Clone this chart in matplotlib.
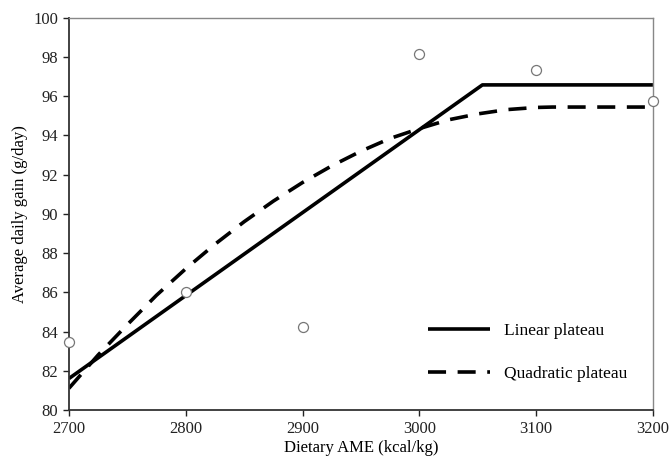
import matplotlib
matplotlib.use("Agg")
import matplotlib.pyplot as plt

plt.rcParams['font.family'] = ['Liberation Serif', 'DejaVu Serif']

# Observed data
obs_x = [2700, 2800, 2900, 3000, 3100, 3200]
obs_y = [83.45, 86.0, 84.25, 98.15, 97.35, 95.77]

# Linear plateau
lin_x = [2700, 3054, 3200]
lin_y = [81.6, 96.58, 96.58]

# Quadratic plateau
quad_x = [2700, 2725, 2750, 2775, 2800, 2825, 2850, 2875, 2900, 2925, 2950,
          2975, 3000, 3025, 3050, 3075, 3100, 3114, 3200]
quad_y = [81.1, 82.8, 84.35, 85.85, 87.2, 88.45, 89.6, 90.65, 91.6, 92.45, 93.2,
          93.85, 94.35, 94.8, 95.1, 95.32, 95.43, 95.45, 95.45]

fig = plt.figure(figsize=(6.69, 4.58), dpi=100)
ax = fig.add_axes([0.103, 0.105, 0.873, 0.856])

ax.plot(lin_x, lin_y, color='black', lw=2.6, solid_capstyle='butt', label='Linear plateau')
ax.plot(quad_x, quad_y, color='black', lw=2.6, dashes=(5, 3.2), label='Quadratic plateau')
ax.plot(obs_x, obs_y, 'o', ms=7.2, mfc='white', mec='#777777', mew=0.9, clip_on=False, zorder=5)

ax.set_xlim(2700, 3200)
ax.set_ylim(80, 100)
ax.set_xticks([2700, 2800, 2900, 3000, 3100, 3200])
ax.set_yticks(range(80, 101, 2))
ax.tick_params(direction='out', length=4, width=1, labelsize=12, colors='#222222')
ax.tick_params(axis='x', pad=4)

for s in ['left', 'bottom']:
    ax.spines[s].set_color('#333333')
    ax.spines[s].set_linewidth(1.3)
for s in ['top', 'right']:
    ax.spines[s].set_color('#888888')
    ax.spines[s].set_linewidth(1.0)

ax.set_xlabel('Dietary AME (kcal/kg)', fontsize=12, labelpad=2)
ax.set_ylabel('Average daily gain (g/day)', fontsize=12, labelpad=4)

leg = ax.legend(loc='upper left', bbox_to_anchor=(0.588, 0.262), frameon=False,
                fontsize=12.5, handlelength=3.6, handletextpad=0.8, labelspacing=1.55)

fig.savefig('out.png', dpi=100)
